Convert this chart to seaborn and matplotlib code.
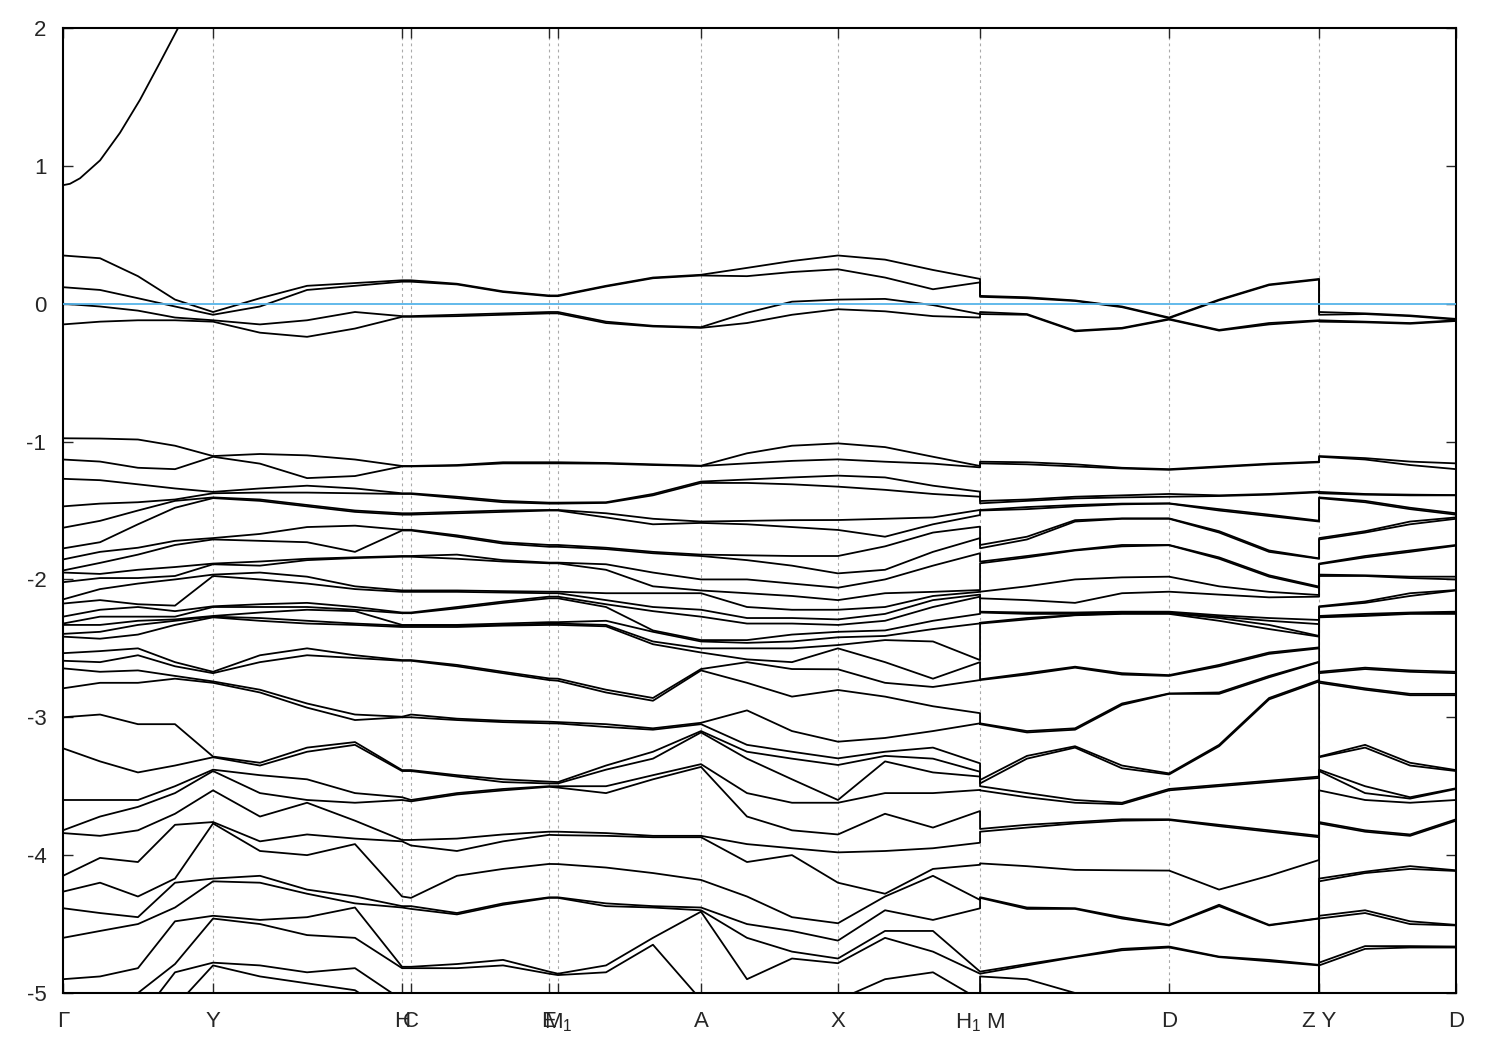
import numpy as np
import pandas as pd
import matplotlib
matplotlib.use("Agg")
import matplotlib.pyplot as plt
import seaborn as sns

# path distance of every sampled k-point (normalised to 1); repeated values are the H1|M and Z|Y breaks
kdist = [0.0, 0.0266, 0.0538, 0.0804, 0.1077, 0.1414, 0.1752, 0.2096, 0.2434,
         0.2498, 0.2828, 0.3159, 0.3489, 0.3553, 0.3898, 0.4235, 0.4580,
         0.4910, 0.5233, 0.5563, 0.5901, 0.6245, 0.6583, 0.6583, 0.6920,
         0.7265, 0.7602, 0.7940, 0.8299, 0.8658, 0.9017, 0.9017, 0.9347,
         0.9670, 1.0]

sym_pos = [0.0, 0.1077, 0.2434, 0.2498, 0.3489, 0.3553, 0.4580, 0.5563,
           0.6583, 0.7940, 0.9017, 1.0]
sym_labels = ["Γ", "Y", "H", "C", "E", "M$_1$", "A", "X", "H$_1$ M", "D", "Z Y", "D"]

# conduction band leaving the window near Gamma
cb_k = [0.0, 0.005, 0.0122, 0.0266, 0.0409, 0.0553, 0.0696, 0.0826, 0.0948]
cb_e = [0.86, 0.87, 0.91, 1.04, 1.24, 1.48, 1.75, 2.0, 2.25]

# band energies (eV) at each sampled k-point
k00 = [0.35, 0.12, 0.0, -0.15, -0.976, -1.13, -1.27, -1.47, -1.625, -1.775, -1.855, -1.935, -1.95, -2.02, -2.145, -2.175, -2.27, -2.32, -2.33, -2.395, -2.415, -2.535, -2.59, -2.645, -2.79, -3.0, -3.225, -3.6, -3.82, -3.84, -4.15, -4.265, -4.385, -4.6, -4.9, -5.2, -5.3, -5.4]
k01 = [0.33, 0.10, -0.02, -0.13, -0.978, -1.145, -1.28, -1.45, -1.575, -1.73, -1.8, -1.88, -1.96, -1.99, -2.07, -2.15, -2.22, -2.27, -2.33, -2.38, -2.43, -2.52, -2.6, -2.67, -2.75, -2.98, -3.32, -3.6, -3.72, -3.86, -4.02, -4.2, -4.42, -4.55, -4.88, -5.1, -5.3, -5.4]
k02 = [0.20, 0.04, -0.05, -0.12, -0.985, -1.19, -1.31, -1.44, -1.5, -1.6, -1.77, -1.82, -1.93, -1.99, -2.03, -2.18, -2.2, -2.27, -2.3, -2.33, -2.4, -2.5, -2.55, -2.66, -2.75, -3.05, -3.4, -3.6, -3.65, -3.82, -4.05, -4.3, -4.45, -4.5, -4.82, -5.0, -5.2, -5.4]
k03 = [0.03, -0.02, -0.10, -0.12, -1.03, -1.2, -1.34, -1.42, -1.43, -1.48, -1.72, -1.75, -1.91, -1.975, -2.0, -2.19, -2.23, -2.27, -2.29, -2.3, -2.33, -2.6, -2.63, -2.7, -2.72, -3.05, -3.35, -3.5, -3.55, -3.7, -3.78, -4.17, -4.2, -4.38, -4.48, -4.79, -4.85, -5.1]
k04 = [-0.06, -0.08, -0.12, -0.13, -1.105, -1.11, -1.365, -1.375, -1.405, -1.41, -1.70, -1.71, -1.885, -1.89, -1.965, -1.975, -2.195, -2.2, -2.265, -2.27, -2.275, -2.67, -2.68, -2.74, -2.75, -3.285, -3.29, -3.38, -3.39, -3.53, -3.76, -3.77, -4.17, -4.19, -4.44, -4.46, -4.78, -4.8]
k05 = [0.04, -0.02, -0.15, -0.21, -1.09, -1.16, -1.34, -1.37, -1.42, -1.43, -1.67, -1.72, -1.87, -1.9, -1.95, -2.0, -2.18, -2.2, -2.24, -2.28, -2.3, -2.55, -2.6, -2.8, -2.82, -3.33, -3.35, -3.42, -3.55, -3.72, -3.9, -3.97, -4.15, -4.2, -4.47, -4.5, -4.8, -4.88]
k06 = [0.13, 0.10, -0.12, -0.24, -1.10, -1.265, -1.32, -1.37, -1.46, -1.47, -1.62, -1.73, -1.85, -1.86, -1.98, -2.03, -2.17, -2.2, -2.22, -2.3, -2.32, -2.5, -2.55, -2.9, -2.93, -3.22, -3.25, -3.45, -3.6, -3.62, -3.85, -4.0, -4.25, -4.28, -4.45, -4.58, -4.85, -4.93]
k07 = [0.15, 0.13, -0.06, -0.18, -1.13, -1.25, -1.34, -1.375, -1.5, -1.51, -1.61, -1.8, -1.84, -1.845, -2.05, -2.07, -2.2, -2.22, -2.23, -2.32, -2.33, -2.55, -2.57, -2.98, -3.02, -3.18, -3.2, -3.55, -3.62, -3.75, -3.88, -3.92, -4.3, -4.35, -4.38, -4.6, -4.82, -4.98]
k08 = [0.17, 0.16, -0.09, -0.095, -1.177, -1.18, -1.375, -1.38, -1.52, -1.53, -1.64, -1.645, -1.83, -1.835, -2.08, -2.09, -2.24, -2.245, -2.33, -2.335, -2.345, -2.585, -2.59, -2.996, -3.0, -3.383, -3.39, -3.58, -3.6, -3.89, -3.9, -4.3, -4.37, -4.38, -4.81, -4.82, -5.05, -5.2]
k09 = [0.17, 0.16, -0.09, -0.095, -1.177, -1.18, -1.375, -1.38, -1.52, -1.53, -1.64, -1.645, -1.83, -1.835, -2.08, -2.09, -2.24, -2.245, -2.33, -2.335, -2.345, -2.585, -2.59, -2.98, -3.0, -3.383, -3.39, -3.6, -3.61, -3.89, -3.93, -4.31, -4.37, -4.39, -4.81, -4.82, -5.05, -5.2]
k10 = [0.145, 0.14, -0.08, -0.09, -1.17, -1.175, -1.4, -1.41, -1.51, -1.52, -1.68, -1.69, -1.82, -1.85, -2.08, -2.09, -2.2, -2.21, -2.33, -2.335, -2.345, -2.62, -2.63, -3.01, -3.02, -3.42, -3.43, -3.55, -3.56, -3.88, -3.97, -4.15, -4.42, -4.43, -4.79, -4.82, -5.05, -5.2]
k11 = [0.09, 0.085, -0.07, -0.08, -1.15, -1.158, -1.43, -1.44, -1.5, -1.51, -1.73, -1.74, -1.86, -1.87, -2.085, -2.095, -2.16, -2.17, -2.32, -2.33, -2.335, -2.67, -2.68, -3.025, -3.035, -3.45, -3.47, -3.52, -3.53, -3.85, -3.9, -4.1, -4.35, -4.36, -4.76, -4.8, -5.05, -5.2]
k12 = [0.06, 0.055, -0.06, -0.07, -1.15, -1.158, -1.443, -1.45, -1.496, -1.5, -1.75, -1.763, -1.878, -1.883, -2.089, -2.1, -2.125, -2.137, -2.31, -2.32, -2.33, -2.718, -2.73, -3.032, -3.044, -3.467, -3.48, -3.5, -3.504, -3.83, -3.853, -4.064, -4.306, -4.31, -4.845, -4.86, -5.05, -5.2]
k13 = [0.06, 0.055, -0.06, -0.07, -1.15, -1.158, -1.443, -1.45, -1.496, -1.5, -1.75, -1.763, -1.878, -1.883, -2.089, -2.1, -2.125, -2.137, -2.31, -2.32, -2.33, -2.72, -2.735, -3.035, -3.045, -3.47, -3.48, -3.5, -3.51, -3.83, -3.855, -4.065, -4.306, -4.31, -4.86, -4.87, -5.05, -5.2]
k14 = [0.13, 0.125, -0.13, -0.14, -1.155, -1.16, -1.44, -1.445, -1.52, -1.55, -1.77, -1.78, -1.89, -1.93, -2.1, -2.15, -2.18, -2.2, -2.3, -2.33, -2.34, -2.8, -2.82, -3.05, -3.07, -3.35, -3.38, -3.5, -3.55, -3.84, -3.86, -4.09, -4.35, -4.37, -4.8, -4.85, -5.05, -5.2]
k15 = [0.19, 0.185, -0.16, -0.165, -1.165, -1.17, -1.38, -1.39, -1.56, -1.6, -1.8, -1.81, -1.95, -2.05, -2.1, -2.2, -2.23, -2.37, -2.38, -2.45, -2.47, -2.86, -2.88, -3.08, -3.09, -3.25, -3.3, -3.42, -3.45, -3.86, -3.87, -4.13, -4.37, -4.38, -4.6, -4.65, -5.05, -5.2]
k16 = [0.21, 0.205, -0.17, -0.175, -1.175, -1.177, -1.29, -1.30, -1.58, -1.59, -1.82, -1.83, -2.0, -2.08, -2.1, -2.22, -2.27, -2.44, -2.45, -2.5, -2.53, -2.65, -2.66, -3.04, -3.05, -3.1, -3.11, -3.34, -3.36, -3.86, -3.87, -4.18, -4.38, -4.4, -4.41, -5.05, -5.1, -5.2]
k17 = [0.26, 0.20, -0.065, -0.14, -1.085, -1.158, -1.275, -1.30, -1.575, -1.6, -1.825, -1.86, -2.0, -2.1, -2.2, -2.28, -2.32, -2.44, -2.46, -2.5, -2.58, -2.6, -2.75, -2.95, -3.2, -3.25, -3.3, -3.55, -3.72, -3.92, -4.05, -4.3, -4.5, -4.6, -4.9, -5.05, -5.1, -5.2]
k18 = [0.31, 0.23, 0.015, -0.08, -1.03, -1.14, -1.26, -1.31, -1.57, -1.62, -1.83, -1.9, -2.03, -2.12, -2.22, -2.28, -2.32, -2.4, -2.45, -2.5, -2.6, -2.65, -2.85, -3.1, -3.25, -3.3, -3.45, -3.62, -3.82, -3.95, -4.0, -4.45, -4.55, -4.7, -4.75, -5.0, -5.1, -5.2]
k19 = [0.35, 0.25, 0.03, -0.04, -1.013, -1.129, -1.247, -1.327, -1.569, -1.641, -1.83, -1.956, -2.06, -2.15, -2.22, -2.29, -2.33, -2.38, -2.42, -2.476, -2.5, -2.652, -2.802, -3.177, -3.298, -3.346, -3.6, -3.62, -3.85, -3.98, -4.2, -4.494, -4.62, -4.75, -4.784, -5.05, -5.1, -5.2]
k20 = [0.32, 0.19, 0.035, -0.055, -1.04, -1.146, -1.26, -1.35, -1.56, -1.69, -1.76, -1.93, -2.0, -2.1, -2.2, -2.25, -2.3, -2.37, -2.41, -2.44, -2.6, -2.75, -2.85, -3.15, -3.25, -3.28, -3.32, -3.55, -3.7, -3.97, -4.28, -4.3, -4.4, -4.55, -4.6, -4.9, -5.05, -5.2]
k21 = [0.245, 0.105, -0.01, -0.09, -1.11, -1.16, -1.32, -1.38, -1.55, -1.6, -1.66, -1.8, -1.9, -2.09, -2.12, -2.15, -2.2, -2.3, -2.36, -2.45, -2.72, -2.78, -2.92, -3.1, -3.22, -3.3, -3.4, -3.55, -3.8, -3.95, -4.1, -4.15, -4.47, -4.55, -4.7, -4.85, -5.05, -5.2]
k22 = [0.18, 0.155, -0.075, -0.10, -1.177, -1.187, -1.363, -1.4, -1.496, -1.533, -1.617, -1.7, -1.81, -2.077, -2.09, -2.11, -2.125, -2.25, -2.319, -2.585, -2.6, -2.73, -2.97, -3.044, -3.334, -3.395, -3.43, -3.527, -3.68, -3.91, -4.07, -4.325, -4.386, -4.845, -4.86, -5.05, -5.1, -5.2]
k23 = [0.057, 0.05, -0.06, -0.075, -1.146, -1.158, -1.431, -1.448, -1.496, -1.5, -1.75, -1.774, -1.871, -1.883, -2.089, -2.137, -2.234, -2.24, -2.314, -2.32, -2.725, -2.73, -3.044, -3.05, -3.455, -3.48, -3.5, -3.53, -3.81, -3.83, -4.06, -4.305, -4.31, -4.845, -4.86, -4.88, -5.05, -5.2]
k24 = [0.047, 0.04, -0.075, -0.08, -1.15, -1.165, -1.42, -1.43, -1.475, -1.49, -1.69, -1.71, -1.83, -1.84, -2.05, -2.15, -2.24, -2.25, -2.28, -2.29, -2.68, -2.69, -3.1, -3.11, -3.28, -3.3, -3.55, -3.58, -3.78, -3.8, -4.08, -4.38, -4.39, -4.79, -4.8, -4.9, -5.05, -5.2]
k25 = [0.024, 0.02, -0.195, -0.20, -1.165, -1.18, -1.4, -1.412, -1.46, -1.47, -1.57, -1.58, -1.786, -1.79, -2.0, -2.17, -2.24, -2.25, -2.258, -2.26, -2.633, -2.64, -3.08, -3.09, -3.21, -3.22, -3.6, -3.62, -3.76, -3.77, -4.107, -4.385, -4.39, -4.736, -4.74, -5.0, -5.1, -5.2]
k26 = [-0.02, -0.025, -0.175, -0.18, -1.19, -1.195, -1.39, -1.405, -1.45, -1.455, -1.557, -1.56, -1.75, -1.76, -1.985, -2.1, -2.234, -2.241, -2.245, -2.25, -2.68, -2.69, -2.9, -2.91, -3.35, -3.37, -3.62, -3.63, -3.74, -3.75, -4.11, -4.45, -4.46, -4.68, -4.69, -5.05, -5.1, -5.2]
k27 = [-0.10, -0.105, -0.11, -0.115, -1.2, -1.205, -1.38, -1.4, -1.448, -1.45, -1.557, -1.56, -1.75, -1.752, -1.98, -2.089, -2.234, -2.241, -2.245, -2.25, -2.694, -2.7, -2.827, -2.83, -3.407, -3.415, -3.52, -3.53, -3.74, -3.745, -4.112, -4.506, -4.51, -4.663, -4.67, -5.05, -5.1, -5.2]
k28 = [0.03, 0.025, -0.19, -0.195, -1.18, -1.185, -1.39, -1.395, -1.49, -1.50, -1.65, -1.66, -1.84, -1.85, -2.05, -2.11, -2.26, -2.27, -2.28, -2.3, -2.62, -2.63, -2.82, -2.83, -3.2, -3.21, -3.49, -3.5, -3.78, -3.79, -4.25, -4.36, -4.37, -4.736, -4.74, -5.05, -5.1, -5.2]
k29 = [0.14, 0.135, -0.14, -0.15, -1.16, -1.165, -1.38, -1.385, -1.53, -1.54, -1.79, -1.8, -1.97, -1.98, -2.09, -2.13, -2.28, -2.3, -2.33, -2.36, -2.53, -2.54, -2.7, -2.71, -2.86, -2.87, -3.46, -3.47, -3.82, -3.83, -4.15, -4.506, -4.51, -4.76, -4.77, -5.05, -5.1, -5.2]
k30 = [0.18, 0.175, -0.12, -0.125, -1.146, -1.15, -1.363, -1.368, -1.574, -1.58, -1.847, -1.85, -2.052, -2.06, -2.113, -2.125, -2.294, -2.324, -2.41, -2.415, -2.493, -2.5, -2.597, -2.6, -2.73, -2.74, -3.43, -3.44, -3.86, -3.87, -4.035, -4.458, -4.46, -4.796, -4.8, -5.05, -5.1, -5.2]
k31 = [-0.06, -0.08, -0.12, -0.13, -1.105, -1.11, -1.365, -1.375, -1.405, -1.41, -1.70, -1.71, -1.885, -1.89, -1.965, -1.975, -2.195, -2.2, -2.265, -2.27, -2.275, -2.67, -2.68, -2.74, -2.75, -3.285, -3.29, -3.38, -3.39, -3.53, -3.76, -3.77, -4.17, -4.19, -4.44, -4.46, -4.78, -4.8]
k32 = [-0.07, -0.075, -0.13, -0.135, -1.12, -1.13, -1.38, -1.385, -1.43, -1.44, -1.65, -1.66, -1.83, -1.84, -1.97, -1.975, -2.16, -2.17, -2.25, -2.26, -2.265, -2.64, -2.65, -2.79, -2.8, -3.2, -3.22, -3.5, -3.55, -3.6, -3.82, -3.83, -4.12, -4.13, -4.4, -4.42, -4.66, -4.68]
k33 = [-0.085, -0.09, -0.14, -0.145, -1.145, -1.17, -1.385, -1.39, -1.48, -1.49, -1.58, -1.6, -1.79, -1.8, -1.98, -1.99, -2.1, -2.12, -2.24, -2.245, -2.25, -2.66, -2.67, -2.83, -2.84, -3.33, -3.35, -3.58, -3.59, -3.62, -3.85, -3.86, -4.08, -4.1, -4.48, -4.5, -4.66, -4.67]
k34 = [-0.11, -0.115, -0.12, -0.125, -1.158, -1.2, -1.388, -1.39, -1.52, -1.53, -1.55, -1.56, -1.75, -1.755, -1.98, -2.0, -2.077, -2.08, -2.234, -2.24, -2.25, -2.67, -2.68, -2.83, -2.84, -3.383, -3.39, -3.515, -3.52, -3.6, -3.74, -3.75, -4.11, -4.115, -4.506, -4.51, -4.663, -4.67]

columns = [k00, k01, k02, k03, k04, k05, k06, k07, k08, k09, k10, k11, k12,
           k13, k14, k15, k16, k17, k18, k19, k20, k21, k22, k23, k24, k25,
           k26, k27, k28, k29, k30, k31, k32, k33, k34]

rows = []
for step, (k, col) in enumerate(zip(kdist, columns)):
    for band, e in enumerate(sorted(col, reverse=True)):
        rows.append((band, step, k, e))
df = pd.DataFrame(rows, columns=["band", "step", "k", "E"])
df = df.sort_values(["band", "step"])

cb = pd.DataFrame({"k": cb_k, "E": cb_e})

sns.set_style("ticks")
plt.rcParams["font.family"] = ["Liberation Sans", "DejaVu Sans"]
plt.rcParams["mathtext.default"] = "regular"
plt.rcParams["axes.unicode_minus"] = False

fig = plt.figure(figsize=(15, 10.5), dpi=100)
ax = fig.add_axes([0.042, 0.0543, 0.9287, 0.919])

for p in sym_pos[1:-1]:
    ax.axvline(p, color="#aaaaaa", lw=0.8, ls=(0, (2.5, 3)), zorder=0)

sns.lineplot(data=df, x="k", y="E", units="band", estimator=None, sort=False,
             color="black", lw=1.3, ax=ax, legend=False)
sns.lineplot(data=cb, x="k", y="E", estimator=None, sort=False,
             color="black", lw=1.3, ax=ax, legend=False)
ax.axhline(0, color="#56b4e9", lw=1.3, zorder=5)

ax.set_xlim(0, 1)
ax.set_ylim(-5, 2)
ax.set_xticks(sym_pos)
ax.set_xticklabels(sym_labels)
ax.set_yticks(range(-5, 3))
ax.set_xlabel("")
ax.set_ylabel("")
ax.tick_params(direction="in", length=7, width=1, top=True, right=True,
               labelsize=16)
ax.tick_params(axis="x", pad=13)
ax.tick_params(axis="y", pad=12)
for s in ax.spines.values():
    s.set_linewidth(1.5)
    s.set_color("black")

fig.savefig("out.png", dpi=100)
